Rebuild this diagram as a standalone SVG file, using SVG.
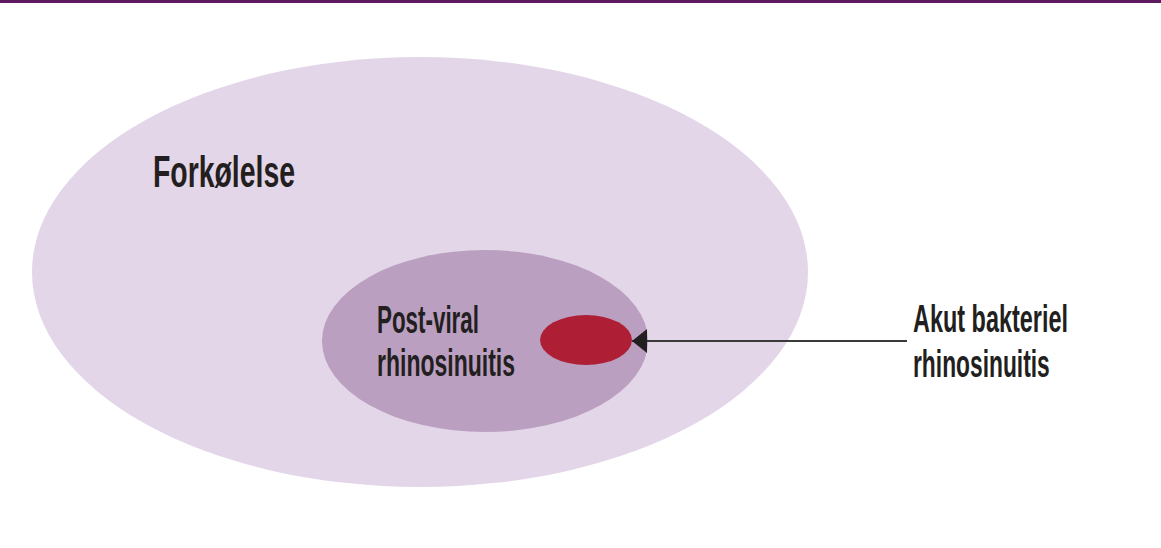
<svg xmlns="http://www.w3.org/2000/svg" width="1161" height="548" viewBox="0 0 1161 548">
<style>
text{font-family:"Liberation Sans",Arial,sans-serif;fill:#231f20;font-weight:bold}
.big{font-size:44px}
.mid{font-size:38px}
</style>
<defs>
<marker id="ah" viewBox="0 0 15 24" refX="15" refY="12" markerWidth="15" markerHeight="24" markerUnits="userSpaceOnUse" orient="auto">
<path d="M0 0 L15 12 L0 24 Z" fill="#231f20"/>
</marker>
</defs>
<rect width="1161" height="548" fill="#ffffff"/>
<rect x="0" y="0" width="1161" height="3" fill="#5e1a5e"/>
<g id="forkolelse">
<ellipse cx="420" cy="272" rx="388" ry="215" fill="#e3d6e8"/>
<text class="big" x="153" y="187" textLength="142" lengthAdjust="spacingAndGlyphs">Forkølelse</text>
</g>
<g id="postviral">
<ellipse cx="485" cy="341" rx="163" ry="91" fill="#bb9fc0"/>
<text class="mid" x="377" y="333" textLength="102" lengthAdjust="spacingAndGlyphs">Post-viral</text>
<text class="mid" x="377" y="376" textLength="138" lengthAdjust="spacingAndGlyphs">rhinosinuitis</text>
</g>
<g id="akut">
<ellipse cx="586" cy="340" rx="46" ry="25" fill="#ae1f35"/>
</g>
<g id="akut-label">
<text class="mid" transform="translate(913,332) scale(0.62,1)" textLength="250" lengthAdjust="spacingAndGlyphs">Akut bakteriel</text>
<text class="mid" transform="translate(913,377) scale(0.6,1)" textLength="228" lengthAdjust="spacingAndGlyphs">rhinosinuitis</text>
</g>
<g id="connectors">
<line x1="907" y1="341" x2="632" y2="341" stroke="#3a3a3a" stroke-width="2" marker-end="url(#ah)"/>
</g>
</svg>
